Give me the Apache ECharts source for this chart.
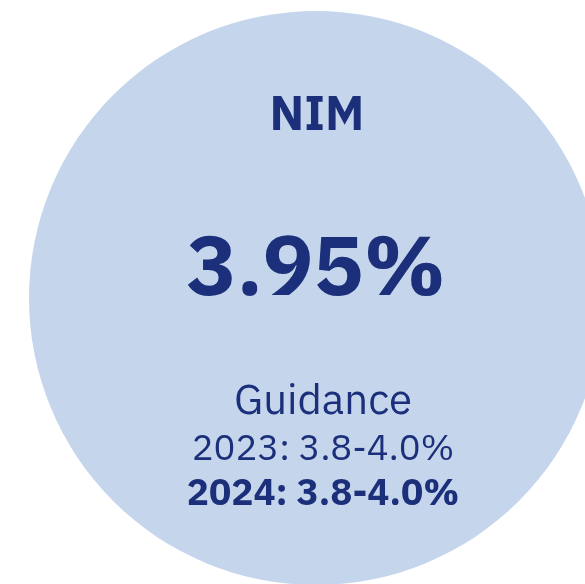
<!DOCTYPE html>
<html>
<head>
<meta charset="utf-8">
<script src="https://cdn.jsdelivr.net/npm/echarts@6/dist/echarts.min.js"></script>
<style>
  html, body { margin: 0; padding: 0; background: #fff; }
  #chart { width: 585px; height: 584px; }
</style>
</head>
<body>
<div id="chart"></div>
<script>
// KPI texts
var metricName = ['NIM'];
var metricValue = ['3.95%'];
var guidanceTitle = ['Guidance'];
var guidanceLines = ['2023: 3.8-4.0%', '2024: 3.8-4.0%'];

var navy = '#1b2f7a';
var fontFam = '"IBM Plex Sans", "Noto Sans", sans-serif';

var chart = echarts.init(document.getElementById('chart'));

function txt(str, x, y, size, weight) {
	return {
		type: 'text',
		x: x,
		y: y,
		style: {
			text: str,
			fill: navy,
			font: weight + ' ' + size + 'px ' + fontFam,
			textAlign: 'center',
			textVerticalAlign: 'middle'
		}
	};
}

chart.setOption({
	backgroundColor: '#ffffff',
	graphic: [
		{
			type: 'circle',
			shape: { cx: 316, cy: 298, r: 287 },
			style: { fill: '#c5d6ec' }
		},
		txt(metricName[0], 317, 116, 48, 'bold'),
		txt(metricValue[0], 316, 271, 84, 'bold'),
		txt(guidanceTitle[0], 323, 402, 42, 'normal'),
		txt(guidanceLines[0], 323, 449, 36.5, 'normal'),
		txt(guidanceLines[1], 323, 494, 37, 'bold')
	]
});
</script>
</body>
</html>
